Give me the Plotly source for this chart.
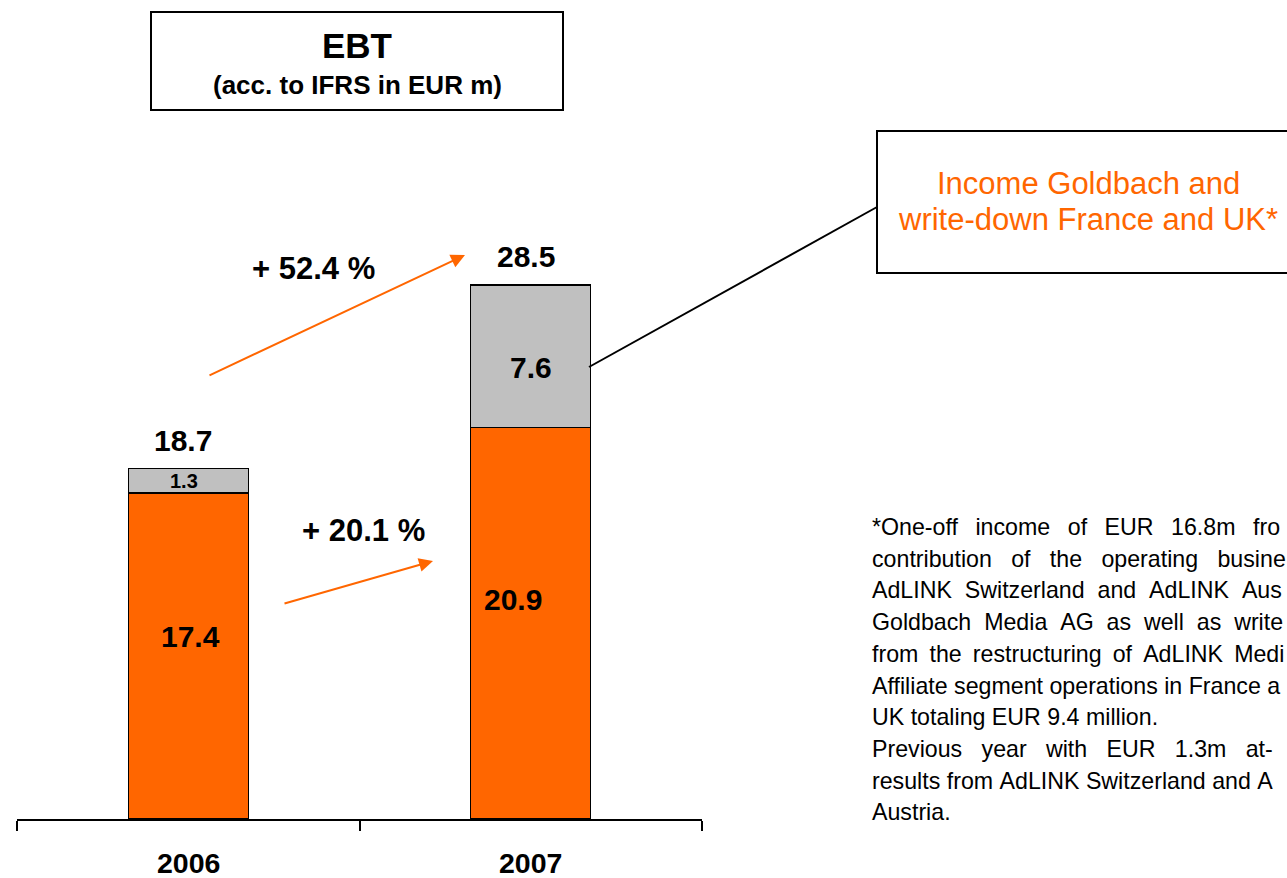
import plotly.graph_objects as go

# ---------------- data ----------------
years = ["2006", "2007"]
ebt_core = [17.4, 20.9]          # orange segment
one_off = [1.3, 7.6]             # grey segment
ebt_total = [18.7, 28.5]
growth_labels = ["+ 52.4 %", "+ 20.1 %"]
title_main = "EBT"
title_sub = "(acc. to IFRS in EUR m)"
callout_lines = ["Income Goldbach and", "write-down France and UK*"]
# footnote as visible in the reference (its right edge is cut by the page)
footnote_lines = [
    ("*One-off income of EUR 16.8m fro", 2.5),
    ("contribution of the operating busine", 3),
    ("AdLINK Switzerland and AdLINK Aus", 2),
    ("Goldbach Media AG as well as write", 2),
    ("from the restructuring of AdLINK Medi", 1.5),
    ("Affiliate segment operations in France a", 1),
    ("UK totaling EUR 9.4 million.", 1),
    ("Previous year with EUR 1.3m at-", 3),
    ("results from AdLINK Switzerland and A", 1),
    ("Austria.", 1),
]
AXIS_MAX = 30

ORANGE = "#FF6600"
GREY = "#C0C0C0"
FONT = "Liberation Sans, Arial, sans-serif"

W, H = 1287, 878
L, R = 17, 702          # plot area x in px
T, B = 257, 819         # plot area y in px


def px(x):
    return (x - L) / (R - L)


def py(y):
    return (B - y) / (B - T)


def cx(i):
    # paper x of category i centre
    return (i + 0.5) / len(years)


def vy(v):
    # paper y of a data value
    return v / AXIS_MAX


def gap_str(g):
    n = int(g)
    return "\u00a0" * n + ("\u2009" if g - n >= 0.5 else "")


fig = go.Figure()
fig.add_trace(go.Bar(
    x=years, y=ebt_core,
    marker=dict(color=ORANGE, line=dict(color="black", width=1.3)),
    width=0.35, hoverinfo="skip"))
fig.add_trace(go.Bar(
    x=years, y=one_off,
    marker=dict(color=GREY, line=dict(color="black", width=1.3)),
    width=0.35, hoverinfo="skip"))

ann = []


def bold(s):
    return f"<b>{s}</b>"


def text(x, y, s, size, color="black", xanchor="center", yanchor="middle", **kw):
    ann.append(dict(x=x, y=y, xref="paper", yref="paper", text=s, showarrow=False,
                    xanchor=xanchor, yanchor=yanchor,
                    font=dict(family=FONT, size=size, color=color), **kw))


# value labels
for i, yr in enumerate(years):
    text(cx(i), vy(ebt_core[i] * 0.56), bold(f"{ebt_core[i]:.1f}"), 30, xshift=[2, -18][i])
    text(cx(i), vy(ebt_core[i] + one_off[i] / 2), bold(f"{one_off[i]:.1f}"), [20, 30][i],
         yshift=[0, -11][i], xshift=[-4, 0][i])
    text(cx(i), vy(ebt_total[i]), bold(f"{ebt_total[i]:.1f}"), 30, yanchor="bottom",
         yshift=10, xshift=-5)
    text(cx(i), py(863), bold(yr), 28.5)

# growth labels
text(px(313), py(268), bold(growth_labels[0]), 31)
text(px(363), py(530), bold(growth_labels[1]), 31)

# arrows
for (hx, hy, tx, ty) in [(465, 255, 208, 376), (433, 561, 283, 604)]:
    ann.append(dict(x=px(hx), y=py(hy), xref="paper", yref="paper", text="",
                    showarrow=True, ax=tx - hx, ay=ty - hy, axref="pixel", ayref="pixel",
                    arrowhead=2, arrowsize=1.4, arrowwidth=2, arrowcolor=ORANGE, standoff=0))

# title box text
text(px(357), py(45), bold(title_main), 35)
text(px(357), py(85), bold(title_sub), 26)

# callout text
for k, line in enumerate(callout_lines):
    text(px(1088), py(183 + 36 * k), line, 31, color=ORANGE)

# footnote
for k, (line, gap) in enumerate(footnote_lines):
    txt = line.replace(" ", gap_str(gap))
    text(px(870), py(527 + 31.7 * k), txt, 23.2, xanchor="left")

shapes = [
    dict(type="rect", xref="paper", yref="paper", x0=px(151), x1=px(563), y0=py(12), y1=py(110),
         line=dict(color="black", width=2), fillcolor="rgba(0,0,0,0)"),
    dict(type="rect", xref="paper", yref="paper", x0=px(877), x1=px(1300), y0=py(131), y1=py(273),
         line=dict(color="black", width=2), fillcolor="rgba(0,0,0,0)"),
    dict(type="line", xref="paper", yref="paper", x0=px(589), y0=py(367), x1=px(877), y1=py(207),
         line=dict(color="black", width=2)),
]

fig.update_layout(
    width=W, height=H, barmode="stack", showlegend=False,
    margin=dict(l=L, r=W - R, t=T, b=H - B, autoexpand=False),
    paper_bgcolor="white", plot_bgcolor="white",
    annotations=ann, shapes=shapes,
    xaxis=dict(type="category", range=[-0.5, 1.5], tickson="boundaries", ticks="outside",
               ticklen=10, tickcolor="black", tickwidth=1.5, showline=True, linecolor="black",
               linewidth=1.5, showticklabels=False, showgrid=False, zeroline=False, fixedrange=True),
    yaxis=dict(range=[0, AXIS_MAX], visible=False, showgrid=False, zeroline=False, fixedrange=True),
)

fig.write_html("out.html", config={"displayModeBar": False},
               post_script="document.body.style.margin='0px';document.body.style.overflow='hidden';")
